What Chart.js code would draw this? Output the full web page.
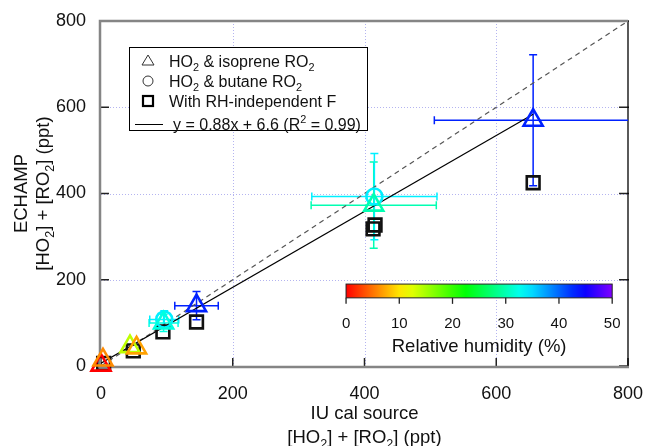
<!DOCTYPE html>
<html>
<head>
<meta charset="utf-8">
<script src="https://cdn.jsdelivr.net/npm/chart.js@4/dist/chart.umd.min.js"></script>
<style>
  html, body { margin: 0; padding: 0; background: #fff; }
  #wrap { width: 645px; height: 446px; position: relative; }
</style>
</head>
<body>
<div id="wrap"><canvas id="myChart"></canvas></div>
<script>
// axis ticks
const xTicks = [0, 200, 400, 600, 800];
const yTicks = [0, 200, 400, 600, 800];
const rhTicks = [0, 10, 20, 30, 40, 50];

// HO2 & isoprene RO2 (triangles)
const isoX    = [0, 3, 44, 54, 95, 145, 414, 656];
const isoY    = [2, 14, 45, 42, 100, 140, 373, 570];
const isoXErr = [0, 0, 0, 0, 22, 33, 95, 150];
const isoYErr = [0, 0, 0, 0, 20, 33, 100, 152];
const isoRH   = [0, 6, 14, 7, 32, 43, 30, 43];

// HO2 & butane RO2 (circles)
const butX    = [96, 415];
const butY    = [108, 393];
const butXErr = [22, 95];
const butYErr = [20, 100];
const butRH   = [34, 34];

// With RH-independent F (squares)
const fixX = [4, 49, 94, 145, 413, 416, 656];
const fixY = [6, 35, 79, 102, 318, 327, 425];

// fit line y = 0.88x + 6.6
const fitSlope = 0.88;
const fitIntercept = 6.6;
const fitRange = [0, 656];

const FONT = '"Liberation Sans", Arial, sans-serif';

function rhColor(v) {
    return "hsl(" + (v * 5.4) + ", 100%, 50%)";
}

function toPoints(xs, ys) {
    return xs.map((x, i) => ({ x: x, y: ys[i] }));
}

// text with sub (1) / superscript (2) parts
function richText(ctx, parts, x, y, size, align) {
    const small = size * 0.68;
    let w = 0;
    parts.forEach(p => {
        ctx.font = (p[1] ? small : size) + "px " + FONT;
        w += ctx.measureText(p[0]).width;
    });
    let cx = align === "center" ? x - w / 2 : x;
    ctx.textAlign = "left";
    ctx.textBaseline = "alphabetic";
    parts.forEach(p => {
        ctx.font = (p[1] ? small : size) + "px " + FONT;
        const dy = p[1] === 1 ? size * 0.28 : (p[1] === 2 ? -size * 0.42 : 0);
        ctx.fillText(p[0], cx, y + dy);
        cx += ctx.measureText(p[0]).width;
    });
}

const concLabel = [["[HO", 0], ["2", 1], ["] + [RO", 0], ["2", 1], ["] (ppt)", 0]];

const framePlugin = {
    id: "frame",
    beforeDatasetsDraw(chart) {
        const ctx = chart.ctx, ca = chart.chartArea;
        const xs = chart.scales.x, ys = chart.scales.y;
        ctx.save();
        // dotted grid
        ctx.strokeStyle = "#b4b4f0";
        ctx.lineWidth = 1;
        ctx.setLineDash([1, 2]);
        xTicks.slice(1, -1).forEach(v => {
            const px = Math.round(xs.getPixelForValue(v)) + 0.5;
            ctx.beginPath(); ctx.moveTo(px, ca.top); ctx.lineTo(px, ca.bottom); ctx.stroke();
        });
        yTicks.slice(1, -1).forEach(v => {
            const py = Math.round(ys.getPixelForValue(v)) + 0.5;
            ctx.beginPath(); ctx.moveTo(ca.left, py); ctx.lineTo(ca.right, py); ctx.stroke();
        });
        ctx.setLineDash([]);
        // ticks (inward)
        ctx.strokeStyle = "#222";
        ctx.lineWidth = 1.5;
        xTicks.forEach(v => {
            const px = xs.getPixelForValue(v);
            ctx.beginPath(); ctx.moveTo(px, ca.bottom); ctx.lineTo(px, ca.bottom - 8); ctx.stroke();
        });
        yTicks.forEach(v => {
            const py = ys.getPixelForValue(v);
            ctx.beginPath(); ctx.moveTo(ca.left, py); ctx.lineTo(ca.left + 8, py); ctx.stroke();
            ctx.beginPath(); ctx.moveTo(ca.right - 9, py); ctx.lineTo(ca.right + 1, py); ctx.stroke();
        });
        // frame
        ctx.strokeStyle = "#000";
        ctx.lineWidth = 1.3;
        ctx.beginPath(); ctx.moveTo(ca.right, ca.top); ctx.lineTo(ca.right, ca.bottom); ctx.stroke();
        ctx.strokeStyle = "#858585";
        ctx.lineWidth = 2.5;
        ctx.beginPath();
        ctx.moveTo(ca.right, ca.top);
        ctx.lineTo(ca.left - 1, ca.top);
        ctx.lineTo(ca.left - 1, ca.bottom + 1);
        ctx.lineTo(ca.right + 1, ca.bottom + 1);
        ctx.stroke();

        // error bars
        ctx.beginPath();
        ctx.rect(ca.left, ca.top, ca.right - ca.left, ca.bottom - ca.top);
        ctx.clip();
        ctx.lineWidth = 1.5;
        const sets = [
            [isoX, isoY, isoXErr, isoYErr, isoRH],
            [butX, butY, butXErr, butYErr, butRH]
        ];
        const cap = 4;
        sets.forEach(s => {
            s[0].forEach((x, i) => {
                if (!s[2][i] && !s[3][i]) return;
                ctx.strokeStyle = rhColor(s[4][i]);
                const px = xs.getPixelForValue(x), py = ys.getPixelForValue(s[1][i]);
                const x0 = xs.getPixelForValue(x - s[2][i]), x1 = xs.getPixelForValue(x + s[2][i]);
                const y0 = ys.getPixelForValue(s[1][i] - s[3][i]), y1 = ys.getPixelForValue(s[1][i] + s[3][i]);
                ctx.beginPath();
                ctx.moveTo(x0, py); ctx.lineTo(x1, py);
                ctx.moveTo(x0, py - cap); ctx.lineTo(x0, py + cap);
                ctx.moveTo(x1, py - cap); ctx.lineTo(x1, py + cap);
                ctx.moveTo(px, y0); ctx.lineTo(px, y1);
                ctx.moveTo(px - cap, y0); ctx.lineTo(px + cap, y0);
                ctx.moveTo(px - cap, y1); ctx.lineTo(px + cap, y1);
                ctx.stroke();
            });
        });
        ctx.restore();
    },
    afterDraw(chart) {
        const ctx = chart.ctx, ca = chart.chartArea;
        const xs = chart.scales.x, ys = chart.scales.y;
        ctx.save();
        ctx.fillStyle = "#111";

        // axis titles
        const midX = (ca.left + ca.right) / 2;
        const midY = (ca.top + ca.bottom) / 2;
        richText(ctx, [["IU cal source", 0]], midX, 419, 18.5, "center");
        richText(ctx, concLabel, midX, 443, 18.5, "center");
        ctx.save();
        ctx.translate(0, midY);
        ctx.rotate(-Math.PI / 2);
        richText(ctx, [["ECHAMP", 0]], 0, 27, 18.5, "center");
        richText(ctx, concLabel, 0, 49, 18.5, "center");
        ctx.restore();

        // legend
        const lx = ca.left + 28, ly = ca.top + 26;
        ctx.fillStyle = "#fff";
        ctx.fillRect(lx, ly, 238, 83);
        ctx.strokeStyle = "#000";
        ctx.lineWidth = 1;
        ctx.strokeRect(lx + 0.5, ly + 0.5, 238, 83);
        ctx.fillStyle = "#111";
        const symX = lx + 19, txtX = lx + 40;
        const rows = [ly + 14, ly + 34, ly + 54, ly + 77];
        ctx.strokeStyle = "#333";
        ctx.lineWidth = 1;
        ctx.beginPath();
        ctx.moveTo(symX, rows[0] - 6); ctx.lineTo(symX + 6, rows[0] + 4); ctx.lineTo(symX - 6, rows[0] + 4); ctx.closePath();
        ctx.stroke();
        ctx.beginPath(); ctx.arc(symX, rows[1], 5, 0, Math.PI * 2); ctx.stroke();
        ctx.strokeStyle = "#000";
        ctx.lineWidth = 2.2;
        ctx.strokeRect(symX - 5, rows[2] - 5, 10, 10);
        ctx.lineWidth = 1;
        ctx.beginPath(); ctx.moveTo(lx + 6, rows[3] + 0.5); ctx.lineTo(lx + 34, rows[3] + 0.5); ctx.stroke();
        const ls = 16;
        richText(ctx, [["HO", 0], ["2", 1], [" & isoprene RO", 0], ["2", 1]], txtX, rows[0] + 6, ls);
        richText(ctx, [["HO", 0], ["2", 1], [" & butane RO", 0], ["2", 1]], txtX, rows[1] + 6, ls);
        richText(ctx, [["With RH-independent F", 0]], txtX, rows[2] + 6, ls);
        richText(ctx, [["y = " + fitSlope + "x + " + fitIntercept + " (R", 0], ["2", 2], [" = 0.99)", 0]], txtX + 4, rows[3] + 6, ls);

        // colour bar
        const bx0 = xs.getPixelForValue(372), bx1 = xs.getPixelForValue(776);
        const by0 = ys.getPixelForValue(190), by1 = ys.getPixelForValue(158);
        const rhMax = rhTicks[rhTicks.length - 1];
        const grad = ctx.createLinearGradient(bx0, 0, bx1, 0);
        for (let v = 0; v <= rhMax; v += 2.5) grad.addColorStop(v / rhMax, rhColor(v));
        ctx.fillStyle = grad;
        ctx.fillRect(bx0, by0, bx1 - bx0, by1 - by0);
        ctx.strokeStyle = "#222";
        ctx.lineWidth = 1;
        ctx.strokeRect(bx0, by0, bx1 - bx0, by1 - by0);
        ctx.fillStyle = "#111";
        ctx.lineWidth = 1.3;
        rhTicks.forEach(v => {
            const px = bx0 + (bx1 - bx0) * v / rhMax;
            ctx.beginPath(); ctx.moveTo(px, by1); ctx.lineTo(px, by1 + 6); ctx.stroke();
            richText(ctx, [[String(v), 0]], px, by1 + 30, 15, "center");
        });
        richText(ctx, [["Relative humidity (%)", 0]], (bx0 + bx1) / 2, by1 + 54, 18.5, "center");
        ctx.restore();
    }
};

const fitLine = fitRange.map(x => ({ x: x, y: fitSlope * x + fitIntercept }));

new Chart(document.getElementById("myChart"), {
    type: "scatter",
    data: {
        datasets: [
            {
                label: "HO2 & isoprene RO2",
                data: toPoints(isoX, isoY),
                pointStyle: "triangle",
                pointRadius: 11,
                pointBorderWidth: 2.6,
                pointBorderColor: isoRH.map(rhColor),
                pointBackgroundColor: "rgba(0,0,0,0)",
                clip: false,
                order: 1
            },
            {
                label: "HO2 & butane RO2",
                data: toPoints(butX, butY),
                pointStyle: "circle",
                pointRadius: 8,
                pointBorderWidth: 2.6,
                pointBorderColor: butRH.map(rhColor),
                pointBackgroundColor: "rgba(0,0,0,0)",
                clip: false,
                order: 2
            },
            {
                label: "With RH-independent F",
                data: toPoints(fixX, fixY),
                pointStyle: "rect",
                pointRadius: 9,
                pointBorderWidth: 2.6,
                pointBorderColor: "#111",
                pointBackgroundColor: "rgba(0,0,0,0)",
                clip: false,
                order: 3
            },
            {
                label: "fit",
                data: fitLine,
                showLine: true,
                pointRadius: 0,
                borderColor: "#000",
                borderWidth: 1.2,
                order: 4
            },
            {
                label: "1:1",
                data: [{ x: xTicks[0], y: yTicks[0] }, { x: xTicks[xTicks.length - 1], y: yTicks[yTicks.length - 1] }],
                showLine: true,
                pointRadius: 0,
                borderColor: "#555",
                borderWidth: 1.2,
                borderDash: [5, 4],
                order: 5
            }
        ]
    },
    options: {
        responsive: true,
        maintainAspectRatio: false,
        animation: false,
        events: [],
        layout: { padding: { top: 21, right: 17, left: 0, bottom: 0 } },
        plugins: {
            legend: { display: false },
            tooltip: { enabled: false },
            title: { display: false }
        },
        scales: {
            x: {
                type: "linear",
                min: xTicks[0],
                max: xTicks[xTicks.length - 1],
                grid: { display: false },
                border: { display: false },
                afterBuildTicks: s => { s.ticks = xTicks.map(v => ({ value: v })); },
                afterFit: s => { s.height = 80; s.paddingLeft = 0; s.paddingRight = 0; },
                ticks: {
                    autoSkip: false,
                    maxRotation: 0,
                    padding: 9,
                    color: "#111",
                    font: { family: FONT, size: 18 }
                }
            },
            y: {
                type: "linear",
                min: yTicks[0],
                max: yTicks[yTicks.length - 1],
                grid: { display: false },
                border: { display: false },
                afterBuildTicks: s => { s.ticks = yTicks.map(v => ({ value: v })); },
                afterFit: s => { s.width = 101; s.paddingTop = 0; s.paddingBottom = 0; },
                ticks: {
                    autoSkip: false,
                    padding: 7,
                    color: "#111",
                    font: { family: FONT, size: 18 }
                }
            }
        }
    },
    plugins: [framePlugin]
});
</script>
</body>
</html>
